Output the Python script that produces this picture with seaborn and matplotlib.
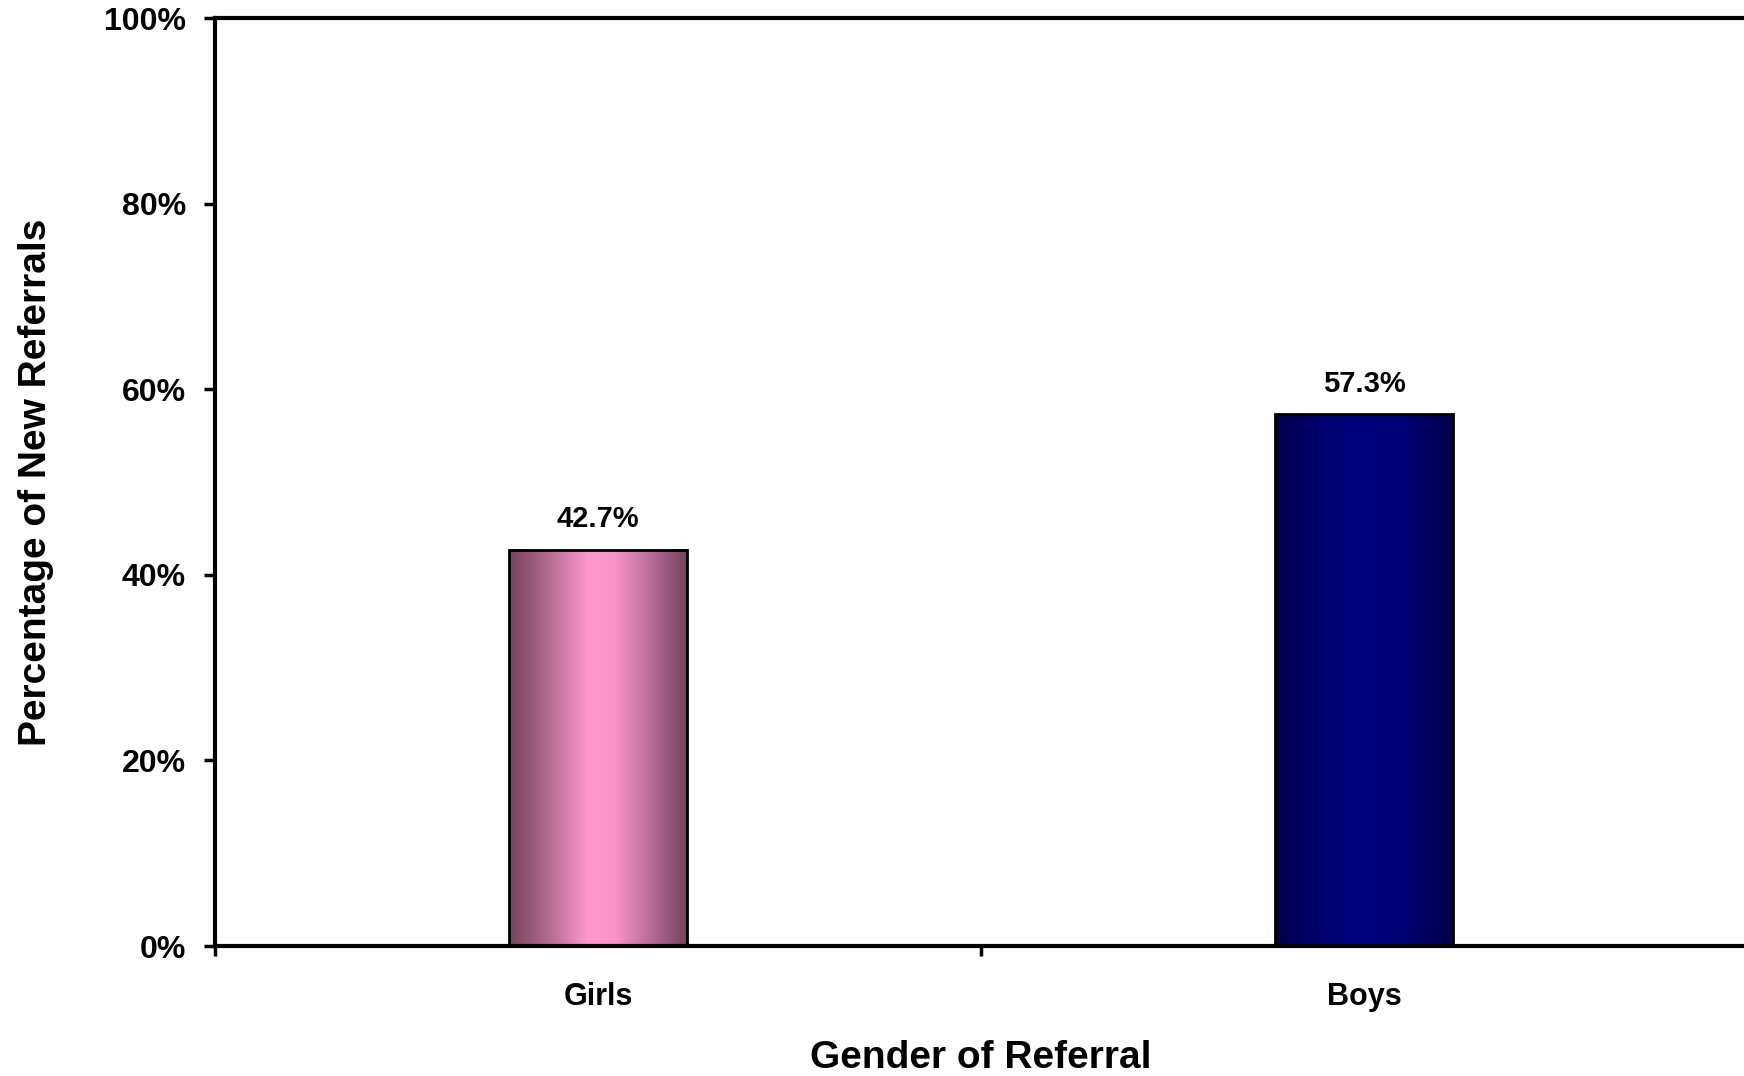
import numpy as np
import matplotlib
matplotlib.use("Agg")
import matplotlib.pyplot as plt
from matplotlib.colors import LinearSegmentedColormap
from matplotlib.ticker import PercentFormatter, FixedLocator
import seaborn as sns

categories = ["Girls", "Boys"]
values = [42.7, 57.3]
value_labels = ["42.7%", "57.3%"]
y_ticks = [0, 20, 40, 60, 80, 100]

sns.set_theme(style="white")
plt.rcParams["font.family"] = ["Liberation Sans", "DejaVu Sans"]
plt.rcParams["font.weight"] = "bold"
plt.rcParams["text.color"] = "black"
plt.rcParams["axes.labelcolor"] = "black"
plt.rcParams["xtick.color"] = "black"
plt.rcParams["ytick.color"] = "black"

fig = plt.figure(figsize=(17.44, 10.76), dpi=100)
ax = fig.add_axes([215 / 1744, 1 - 946 / 1076, 1532 / 1744, 928 / 1076])

sns.barplot(x=categories, y=values, ax=ax, width=0.232, color="white",
            edgecolor="black", linewidth=2.0)

grads = [
    LinearSegmentedColormap.from_list("pink", [(0.0, "#74445c"), (0.22, "#b46a90"),
                                               (0.45, "#ff99cc"), (0.6, "#f894c6"),
                                               (0.85, "#a6628a"), (1.0, "#74445c")]),
    LinearSegmentedColormap.from_list("navy", [(0.0, "#000048"), (0.25, "#000070"),
                                               (0.5, "#000080"), (0.75, "#000070"),
                                               (1.0, "#000048")]),
]
ramp = np.linspace(0, 1, 256).reshape(1, -1)
for i, (patch, cmap) in enumerate(zip(list(ax.patches), grads)):
    patch.set_facecolor("none")
    patch.set_zorder(3)
    x0, y0 = patch.get_x(), patch.get_y()
    w, h = patch.get_width(), patch.get_height()
    ax.imshow(ramp, cmap=cmap, aspect="auto", extent=[x0, x0 + w, y0, y0 + h],
              zorder=2, interpolation="bilinear")
    ax.annotate(value_labels[i], (x0 + w / 2, y0 + h),
                xytext=(0, 22), textcoords="offset points", ha="center",
                va="center", fontsize=21, fontweight="bold", color="black")

ax.set_xlim(-0.5, 1.5)
ax.set_ylim(0, 100)
ax.yaxis.set_major_locator(FixedLocator(y_ticks))
ax.yaxis.set_major_formatter(PercentFormatter(decimals=0))

for side in ["left", "bottom", "top"]:
    ax.spines[side].set_visible(True)
    ax.spines[side].set_linewidth(3)
    ax.spines[side].set_color("black")
ax.spines["right"].set_visible(False)

ax.tick_params(axis="y", which="major", direction="out", length=8, width=2.5,
               color="black", pad=13, labelsize=23, left=True, labelcolor="black")
ax.tick_params(axis="x", which="major", length=0, pad=26, labelsize=22,
               labelcolor="black")
ax.set_xticks([-0.5, 0.5, 1.5], minor=True)
ax.tick_params(axis="x", which="minor", direction="out", length=7, width=2.5,
               color="black", bottom=True)
for lab in ax.get_xticklabels() + ax.get_yticklabels():
    lab.set_fontweight("bold")

ax.set_xlabel("Gender of Referral", fontsize=28, fontweight="bold", color="black")
ax.set_ylabel("Percentage of New Referrals", fontsize=28, fontweight="bold",
              color="black")
ax.xaxis.label.set_va("center")
ax.yaxis.label.set_va("center")
ax.xaxis.set_label_coords(0.5, -0.121)
ax.yaxis.set_label_coords(-0.117, 0.5)
ax.set_facecolor("white")
fig.patch.set_facecolor("white")

fig.savefig("out.png", dpi=100)
